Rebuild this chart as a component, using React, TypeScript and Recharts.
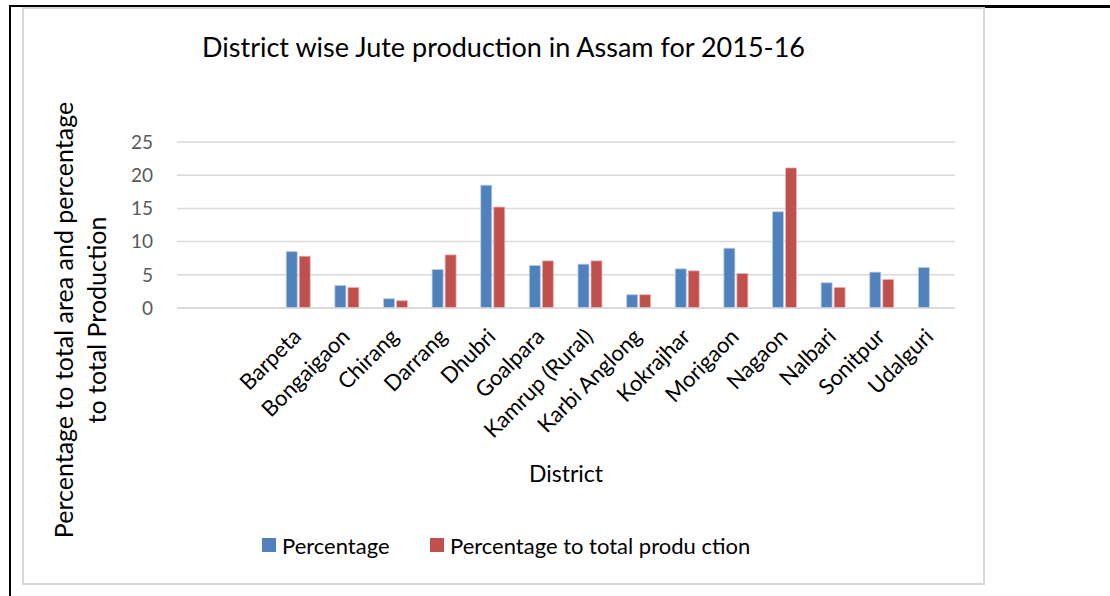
import { BarChart, Bar, XAxis, YAxis, CartesianGrid, Legend } from 'recharts';

const districts = ['', '', 'Barpeta', 'Bongaigaon', 'Chirang', 'Darrang', 'Dhubri', 'Goalpara', 'Kamrup (Rural)', 'Karbi Anglong', 'Kokrajhar', 'Morigaon', 'Nagaon', 'Nalbari', 'Sonitpur', 'Udalguri'];
const areaShare = [null, null, 8.5, 3.4, 1.4, 5.8, 18.5, 6.4, 6.6, 2.0, 5.9, 9.0, 14.5, 3.8, 5.4, 6.1];
const productionShare = [null, null, 7.8, 3.1, 1.1, 8.0, 15.2, 7.1, 7.1, 2.0, 5.6, 5.2, 21.1, 3.1, 4.3, null];
const yTicks = [0, 5, 10, 15, 20, 25];

const seriesNames = ['Percentage', 'Percentage to total produ ction'];
const BLUE = '#4F81BD';
const RED = '#C0504D';
const FONT = 'Lato, "Open Sans", sans-serif';

const data = districts.map((name, i) => ({
  name,
  area: areaShare[i],
  production: productionShare[i],
}));

const XTick = ({ x, y, payload }: any) => (
  <g transform={`translate(${x + 4},${y + 22})`}>
    <text x={0} y={0} textAnchor="end" transform="rotate(-45)" fontSize={22} fill="#000" fontFamily={FONT}>
      {payload.value}
    </text>
  </g>
);

const YLabel = () => (
  <g fontFamily={FONT} fontSize={25} fill="#000">
    <text x={41} y={312} textAnchor="middle" dominantBaseline="central" transform="rotate(-90 41 312)">
      Percentage to total area and percentage
    </text>
    <text x={74} y={312} textAnchor="middle" dominantBaseline="central" transform="rotate(-90 74 312)">
      to total Production
    </text>
  </g>
);

const LegendBox = () => (
  <div style={{ position: 'relative', height: 30, fontFamily: FONT, fontSize: 22, color: '#000' }}>
    {seriesNames.map((label, i) => (
      <div
        key={label}
        style={{ position: 'absolute', left: i === 0 ? 0 : 168, top: 0, display: 'flex', alignItems: 'center', height: 30, whiteSpace: 'nowrap' }}
      >
        <span style={{ display: 'inline-block', width: 14, height: 14, background: i === 0 ? BLUE : RED, marginRight: 6 }} />
        <span>{label}</span>
      </div>
    ))}
  </div>
);

export default function App() {
  return (
    <div style={{ position: 'absolute', left: 0, top: 0, width: 1110, height: 596, background: '#fff', overflow: 'hidden' }}>
      {/* page frame */}
      <div style={{ position: 'absolute', left: 9, top: 5, width: 976, height: 2, background: '#000' }} />
      <div style={{ position: 'absolute', left: 984, top: 5, width: 126, height: 3, background: '#000' }} />
      <div style={{ position: 'absolute', left: 9, top: 5, width: 2, height: 591, background: '#000' }} />
      {/* chart border */}
      <div style={{ position: 'absolute', left: 22, top: 7, width: 963, height: 578, border: '2px solid #d9d9d9', boxSizing: 'border-box' }} />
      <div
        style={{ position: 'absolute', left: 22, top: 31, width: 963, textAlign: 'center', fontFamily: FONT, fontSize: 27, lineHeight: '32px', color: '#000' }}
      >
        District wise Jute production in Assam for 2015-16
      </div>
      <div style={{ position: 'absolute', left: 22, top: 8 }}>
        <BarChart
          width={962}
          height={576}
          data={data}
          margin={{ top: 134, right: 29, bottom: 54, left: 0 }}
          barSize={11}
          barGap={2}
        >
          <CartesianGrid vertical={false} stroke="#d9d9d9" strokeWidth={1.5} />
          <XAxis
            dataKey="name"
            interval={0}
            height={222}
            tickLine={false}
            axisLine={{ stroke: '#d9d9d9', strokeWidth: 1.5 }}
            tick={<XTick />}
            label={{ value: 'District', position: 'insideBottom', offset: 48, fontSize: 23, fill: '#000', fontFamily: FONT }}
          />
          <YAxis
            width={155}
            domain={[0, 25]}
            ticks={yTicks}
            tickLine={false}
            axisLine={false}
            tickMargin={18}
            tick={{ fontSize: 19, fill: '#595959', fontFamily: FONT }}
            label={<YLabel />}
          />
          <Legend
            layout="horizontal"
            verticalAlign="middle"
            align="center"
            wrapperStyle={{ left: 240, top: 522, width: 600, height: 30 }}
            content={<LegendBox />}
          />
          <Bar dataKey="area" name={seriesNames[0]} fill={BLUE} stroke="#b9cde5" strokeWidth={0.75} isAnimationActive={false} />
          <Bar dataKey="production" name={seriesNames[1]} fill={RED} stroke="#e6b9b8" strokeWidth={0.75} isAnimationActive={false} />
        </BarChart>
      </div>
    </div>
  );
}
